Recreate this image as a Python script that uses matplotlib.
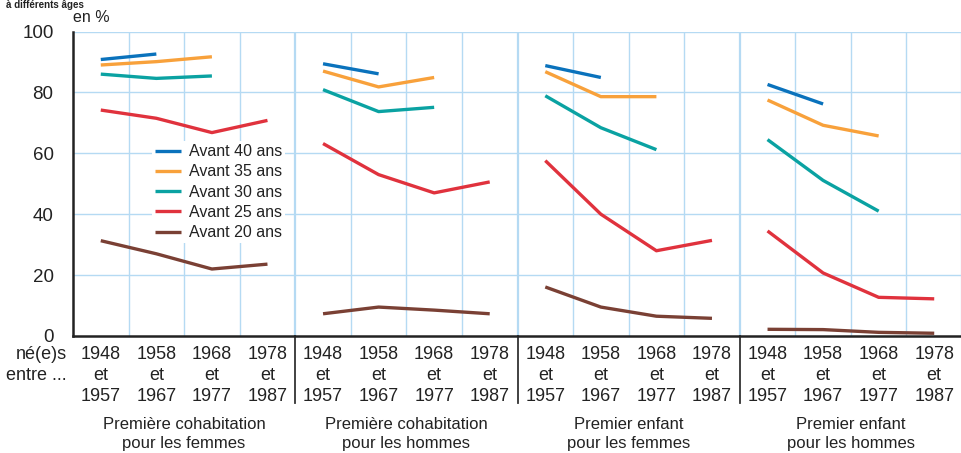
import matplotlib
matplotlib.use("Agg")
import matplotlib.pyplot as plt
import matplotlib.transforms as mtransforms
import numpy as np

plt.rcParams['font.family'] = ['Liberation Sans Narrow', 'Liberation Sans', 'DejaVu Sans']

# ---------------- data ----------------
panels = ["Première cohabitation\npour les femmes",
          "Première cohabitation\npour les hommes",
          "Premier enfant\npour les femmes",
          "Premier enfant\npour les hommes"]
cohorts = ["1948\net\n1957", "1958\net\n1967", "1968\net\n1977", "1978\net\n1987"]
series_names = ["Avant 40 ans", "Avant 35 ans", "Avant 30 ans", "Avant 25 ans", "Avant 20 ans"]
colors = ["#0a72bc", "#f8a13b", "#0aa2a2", "#e0323d", "#7a4034"]

# values[series][panel] -> list over cohorts (None = missing)
avant40 = [[90.8, 92.6, None, None],
           [89.4, 86.1, None, None],
           [88.8, 84.9, None, None],
           [82.6, 76.2, None, None]]
avant35 = [[89.0, 90.1, 91.7, None],
           [87.0, 81.8, 84.9, None],
           [86.8, 78.6, 78.6, None],
           [77.5, 69.2, 65.7, None]]
avant30 = [[86.0, 84.6, 85.4, None],
           [80.9, 73.7, 75.1, None],
           [78.9, 68.4, 61.2, None],
           [64.5, 51.1, 41.0, None]]
avant25 = [[74.2, 71.5, 66.8, 70.8],
           [63.2, 53.0, 47.0, 50.6],
           [57.6, 40.0, 28.0, 31.4],
           [34.5, 20.7, 12.7, 12.2]]
avant20 = [[31.3, 27.0, 22.0, 23.6],
           [7.3, 9.5, 8.5, 7.3],
           [16.1, 9.5, 6.5, 5.8],
           [2.2, 2.1, 1.2, 0.9]]
all_series = [avant40, avant35, avant30, avant25, avant20]

yticks = [0, 20, 40, 60, 80, 100]

# ---------------- figure ----------------
W, H = 962, 453
fig = plt.figure(figsize=(W / 100, H / 100), dpi=100)
ax = fig.add_axes([73 / W, 1 - 336 / H, (962 - 73) / W, (336 - 31.5) / H])

n_pan = len(panels)
n_coh = len(cohorts)
ax.set_xlim(0, n_pan * n_coh)
ax.set_ylim(0, 100)

grid_c = "#b5daf3"
for x in range(1, n_pan * n_coh + 1):
    lw = 1.6 if x % n_coh == 0 else 1.0
    ax.axvline(x, color=grid_c, lw=lw, zorder=0)
for y in yticks[1:]:
    ax.axhline(y, color=grid_c, lw=1.0, zorder=0)

for s, (name, col) in enumerate(zip(series_names, colors)):
    for p in range(n_pan):
        vals = all_series[s][p]
        xs = [p * n_coh + j + 0.5 for j, v in enumerate(vals) if v is not None]
        ys = [v for v in vals if v is not None]
        ax.plot(xs, ys, color=col, lw=2.4, solid_capstyle='butt',
                label=name if p == 0 else None, zorder=3)

for side in ["top", "right"]:
    ax.spines[side].set_visible(False)
ax.spines["left"].set_linewidth(1.8)
ax.spines["bottom"].set_linewidth(1.8)
ax.spines["left"].set_color("#222222")
ax.spines["bottom"].set_color("#222222")

ax.set_yticks(yticks)
ax.set_yticklabels([str(v) for v in yticks], fontsize=13.5, color="#222222")
ax.tick_params(axis='y', length=0, pad=14)

xt = [p * n_coh + j + 0.5 for p in range(n_pan) for j in range(n_coh)]
ax.set_xticks(xt)
ax.set_xticklabels(cohorts * n_pan, fontsize=13, color="#222222", linespacing=1.3)
ax.tick_params(axis='x', length=0, pad=7)

trans = mtransforms.blended_transform_factory(ax.transData, ax.transAxes)
for p in range(1, n_pan):
    ax.plot([p * n_coh, p * n_coh], [0, -0.22], transform=trans, color="#333333",
            lw=1.3, clip_on=False)

for p in range(n_pan):
    ax.text(p * n_coh + n_coh / 2, -0.265, panels[p], transform=trans,
            ha='center', va='top', fontsize=12, color="#222222", linespacing=1.4)

fig.text(67 / W, 1 - 346 / H, "né(e)s\nentre ...", ha='right', va='top',
         fontsize=13, color="#222222", linespacing=1.3)
fig.text(73 / W, 1 - 17.5 / H, "en %", ha='left', va='center', fontsize=11.5, color="#222222")
fig.text(6 / W, 1 - 0.5 / H, "à différents âges", ha='left', va='top',
         fontsize=7, fontweight='bold', color="#222222")

leg = ax.legend(loc='upper left', bbox_to_anchor=((152 - 73) / (962 - 73), (336 - 141) / 304.5),
                frameon=True, fontsize=11.5, handlelength=1.6, handletextpad=0.5,
                labelspacing=0.33, borderpad=0.2, borderaxespad=0)
leg.get_frame().set_facecolor("white")
leg.get_frame().set_edgecolor("none")
leg.get_frame().set_alpha(1)
for t in leg.get_texts():
    t.set_color("#222222")
leg.set_zorder(5)

fig.savefig("out.png", dpi=100)
